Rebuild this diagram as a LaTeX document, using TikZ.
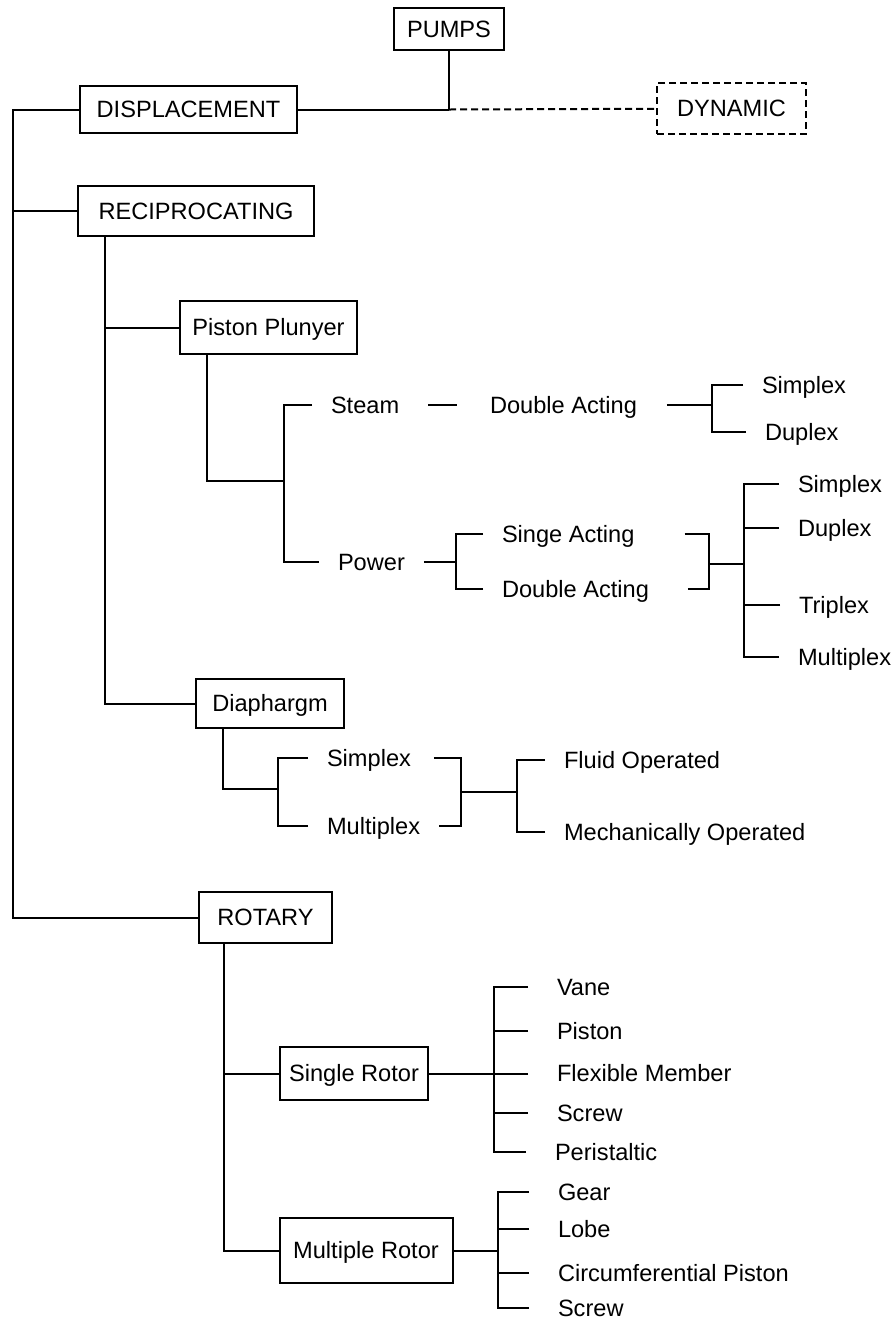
\documentclass[tikz,border=0pt]{standalone}
\usepackage{fontspec}
\setmainfont{Liberation Sans}

\begin{document}
\begin{tikzpicture}[x=0.5pt,y=-0.5pt,line width=1pt]

\tikzset{box/.style = {draw, font=\fontsize{11.8}{14}\selectfont, text height=8.4pt, text depth=0pt, inner sep=0pt}}
\tikzset{leaf/.style = {anchor=west, font=\fontsize{11.8}{14}\selectfont, text height=8.4pt, text depth=0pt, inner xsep=9pt, inner ysep=0pt}}
\tikzset{rleaf/.style = {leaf, inner xsep=14pt}}
\tikzset{dyn/.style = {dash pattern=on 3.5pt off 2pt}}

\useasboundingbox (0,0) rectangle (892,1324);

% boxes
\node[box, minimum width=55pt, minimum height=21pt] (pumps) at (449,29) {PUMPS};
\node[box, minimum width=108.5pt, minimum height=23.5pt] (displ) at (188.5,109.5) {DISPLACEMENT};
\node[box, dyn, minimum width=74.5pt, minimum height=25.5pt] (dyn) at (731.5,108.5) {DYNAMIC};
\node[box, minimum width=118pt, minimum height=25pt] (recip) at (196,211) {RECIPROCATING};
\node[box, minimum width=88.5pt, minimum height=26.5pt] (piston) at (268.5,327.5) {Piston Plunyer};
\node[box, minimum width=74pt, minimum height=24.5pt] (diaph) at (270,703.5) {Diaphargm};
\node[box, minimum width=66.5pt, minimum height=25.5pt] (rotary) at (265.5,917.5) {ROTARY};
\node[box, minimum width=74pt, minimum height=26.5pt] (srotor) at (354,1073.5) {Single Rotor};
\node[box, minimum width=86.5pt, minimum height=32.5pt] (mrotor) at (366,1250.5) {Multiple Rotor};

% labels
\node[leaf] (steam) at (312,405) {Steam};
\node[leaf] (dasteam) at (471,405) {Double Acting};
\node[leaf] (simplex1) at (743,385) {Simplex};
\node[leaf] (duplex1) at (746,432) {Duplex};
\node[leaf] (power) at (319,562) {Power};
\node[leaf] (singe) at (483,534) {Singe Acting};
\node[leaf] (da2) at (483,589) {Double Acting};
\node[leaf] (simplex2) at (779,484) {Simplex};
\node[leaf] (duplex2) at (779,528) {Duplex};
\node[leaf] (triplex) at (780,605) {Triplex};
\node[leaf] (multi1) at (779,657) {Multiplex};
\node[leaf] (dsimplex) at (308,758) {Simplex};
\node[leaf] (dmulti) at (308,826) {Multiplex};
\node[leaf] (fluid) at (545,760) {Fluid Operated};
\node[leaf] (mech) at (545,832) {Mechanically Operated};
\node[rleaf] (vane) at (528,987) {Vane};
\node[rleaf] (rpiston) at (528,1031) {Piston};
\node[rleaf] (flex) at (528,1073.5) {Flexible Member};
\node[rleaf] (screw1) at (528,1113) {Screw};
\node[rleaf] (peri) at (526,1152) {Peristaltic};
\node[rleaf] (gear) at (529,1192) {Gear};
\node[rleaf] (lobe) at (529,1229) {Lobe};
\node[rleaf] (circ) at (529,1273) {Circumferential Piston};
\node[rleaf] (screw2) at (529,1308) {Screw};

% junctions
\coordinate (top) at (pumps.south |- displ.east);
\coordinate (trunk) at (13,109.5);
\coordinate (rt) at (105,236);
\coordinate (pp) at (206.5,354);
\coordinate (sj) at (284,481);
\coordinate (j1) at (712,405);
\coordinate (j2) at (456,562);
\coordinate (j3) at (708.5,564);
\coordinate (j4) at (744,564);
\coordinate (dp) at (223,728);
\coordinate (j5) at (278,789);
\coordinate (j6) at (461,792);
\coordinate (j7) at (517,792);
\coordinate (rp) at (224,943);
\coordinate (j8) at (494,1073.5);
\coordinate (j9) at (498,1250.5);

% main tree
\draw (pumps) -- (top);
\draw (displ) -- (top);
\draw[dyn] (top) -- (dyn);
\draw (displ.west) -- (trunk) |- (rotary.west);
\draw (recip.west) -- (recip.west -| trunk);
\draw (rt) |- (diaph.west);
\draw (piston.west) -- (piston.west -| rt);

% piston plunyer
\draw (pp) |- (sj);
\draw (steam.west) -| (sj);
\draw (power.west) -| (sj);
\draw[shorten <=5pt, shorten >=7pt] (steam) -- (dasteam);
\draw[shorten <=5.5pt] (dasteam) -- (j1);
\draw (simplex1.west) -| (j1);
\draw (duplex1.west) -| (j1);
\draw (power) -- (j2);
\draw (singe.west) -| (j2);
\draw (da2.west) -| (j2);
\draw[shorten <=15.5pt] (singe.east) -| (j3);
\draw[shorten <=10pt] (da2.east) -| (j3);
\draw (j3) -- (j4);
\draw (simplex2.west) -| (j4);
\draw (duplex2.west) -| (j4);
\draw (triplex.west) -| (j4);
\draw (multi1.west) -| (j4);

% diaphargm
\draw (dp) |- (j5);
\draw (dsimplex.west) -| (j5);
\draw (dmulti.west) -| (j5);
\draw[shorten <=2pt] (dsimplex.east) -| (j6);
\draw (dmulti.east) -| (j6);
\draw (j6) -- (j7);
\draw (fluid.west) -| (j7);
\draw (mech.west) -| (j7);

% rotary
\draw (rp) |- (mrotor.west);
\draw (srotor.west) -- (srotor.west -| rp);
\draw (srotor) -- (j8);
\draw (vane.west) -| (j8);
\draw (rpiston.west) -| (j8);
\draw (flex.west) -| (j8);
\draw (screw1.west) -| (j8);
\draw (peri.west) -| (j8);
\draw (mrotor) -- (j9);
\draw (gear.west) -| (j9);
\draw (lobe.west) -| (j9);
\draw (circ.west) -| (j9);
\draw (screw2.west) -| (j9);

\end{tikzpicture}
\end{document}
